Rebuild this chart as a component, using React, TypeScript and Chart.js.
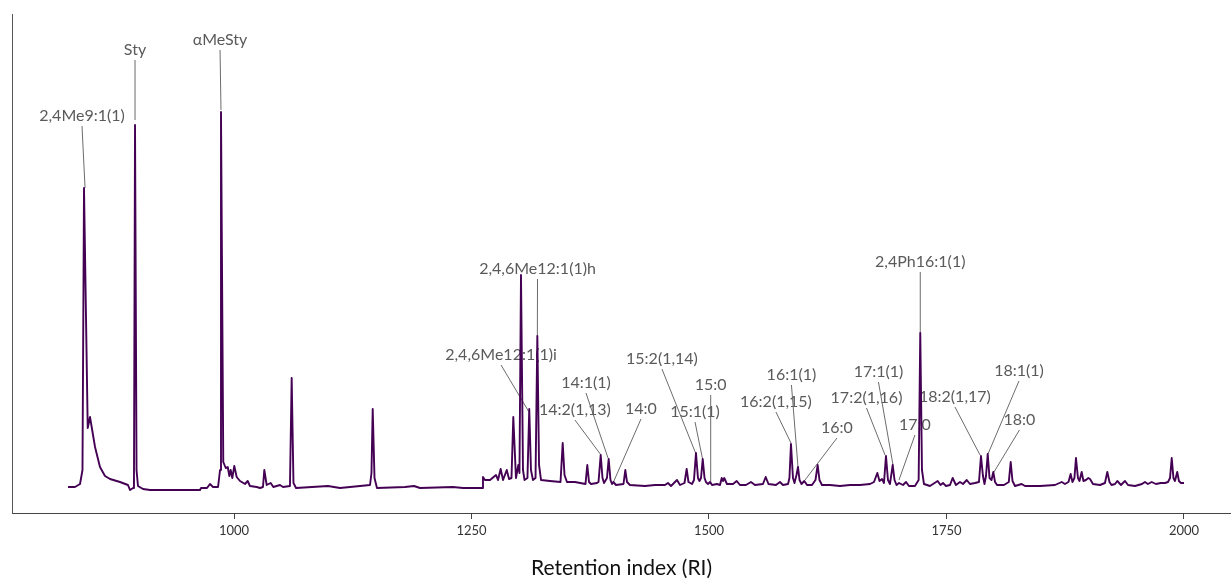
import React, { useEffect, useRef } from "react";
import { Chart, registerables } from "chart.js";

Chart.register(...registerables);

// Chromatogram trace (retention index, detector response in arbitrary units)
const retentionIndex = [
  825.3, 832.6, 837.9, 840.5, 842.1, 846.0, 848.4, 853.7, 858.9, 864.2, 869.5, 880.0, 888.4, 890.5,
  893.7, 894.7, 895.8, 897.4, 898.9, 904.2, 911.6, 932.6, 964.2, 965.3, 971.6, 974.7, 977.9, 983.2,
  985.3, 986.3, 988.7, 991.3, 993.4, 995.1, 996.5, 998.2, 1000.3, 1002.8, 1006.3, 1011.6, 1014.4,
  1016.8, 1023.9, 1027.4, 1030.5, 1031.9, 1034.4, 1038.6, 1041.4, 1048.4, 1051.6, 1058.9, 1060.7,
  1062.6, 1065.3, 1098.9, 1111.6, 1143.2, 1144.7, 1146.0, 1147.9, 1150.5, 1180.0, 1189.5, 1195.8,
  1230.5, 1241.1, 1261.1, 1262.1, 1264.2, 1269.5, 1275.8, 1277.9, 1280.7, 1283.2, 1287.1, 1289.5,
  1292.1, 1294.0, 1296.8, 1299.3, 1300.5, 1302.1, 1304.2, 1305.8, 1308.9, 1310.8, 1312.6, 1314.7,
  1317.4, 1319.3, 1321.1, 1323.2, 1332.6, 1343.7, 1346.0, 1347.9, 1350.5, 1358.9, 1370.0, 1371.9,
  1373.7, 1375.8, 1382.1, 1383.7, 1386.0, 1387.9, 1389.5, 1392.6, 1394.4, 1396.3, 1397.9, 1399.3,
  1402.1, 1410.0, 1411.9, 1413.7, 1416.8, 1432.6, 1443.2, 1453.7, 1456.8, 1460.0, 1466.3, 1469.5,
  1474.2, 1476.5, 1478.4, 1482.1, 1484.2, 1486.3, 1488.4, 1490.0, 1491.6, 1493.4, 1495.3, 1496.8,
  1498.9, 1501.1, 1503.2, 1508.4, 1511.6, 1513.4, 1514.7, 1516.1, 1518.9, 1525.3, 1529.2, 1532.6,
  1538.9, 1544.2, 1548.4, 1556.8, 1559.7, 1562.6, 1570.5, 1574.7, 1577.9, 1583.2, 1584.7, 1586.3,
  1588.4, 1590.0, 1592.1, 1593.7, 1595.3, 1597.4, 1600.3, 1603.2, 1608.4, 1612.1, 1614.4, 1616.3,
  1618.9, 1627.4, 1637.9, 1648.4, 1658.9, 1669.5, 1673.7, 1677.2, 1679.5, 1682.1, 1684.2, 1686.3,
  1688.4, 1690.5, 1693.4, 1695.3, 1697.4, 1700.0, 1704.2, 1707.4, 1710.5, 1716.8, 1720.7, 1722.4,
  1724.2, 1726.3, 1732.6, 1740.7, 1743.7, 1746.3, 1749.5, 1753.7, 1756.5, 1760.0, 1764.2, 1767.4,
  1771.3, 1774.7, 1780.0, 1784.2, 1786.3, 1788.4, 1790.0, 1791.6, 1793.4, 1795.3, 1797.4, 1799.3,
  1801.1, 1803.2, 1810.5, 1815.6, 1817.6, 1819.5, 1822.1, 1829.2, 1832.6, 1848.4, 1864.2, 1871.3,
  1874.7, 1878.4, 1880.7, 1882.6, 1884.7, 1886.3, 1888.4, 1890.0, 1892.3, 1894.2, 1896.8, 1899.3,
  1901.1, 1904.2, 1911.6, 1916.8, 1919.3, 1921.6, 1923.7, 1927.4, 1929.8, 1933.7, 1937.9, 1941.1,
  1948.4, 1955.8, 1958.9, 1962.1, 1966.0, 1970.5, 1975.5, 1980.0, 1983.2, 1985.3, 1987.1, 1988.9,
  1990.5, 1992.9, 1994.7, 1996.8, 2000.0,
];

const intensity = [
  26, 26, 29, 43, 325, 85, 96, 66, 46, 37, 34, 31, 28, 23,
  25, 33, 388, 43, 27, 24, 23, 23, 23, 25, 25, 29, 26, 26,
  43, 401, 51, 45, 46, 37, 43, 35, 47, 36, 32, 29, 32,
  27, 26, 25, 26, 43, 28, 30, 26, 28, 26, 27, 135,
  30, 25, 27, 25, 28, 40, 104, 35, 25, 26, 27, 25,
  26, 25, 25, 36, 33, 33, 38, 33, 44, 33, 43, 34,
  35, 96, 35, 48, 40, 238, 43, 33, 35, 104, 43, 33,
  35, 177, 48, 33, 32, 31, 70, 38, 31, 31, 29, 48,
  31, 29, 30, 31, 58, 35, 30, 35, 54, 33, 29, 31,
  28, 29, 43, 31, 28, 27, 28, 28, 30, 27, 33, 28,
  30, 44, 31, 29, 33, 60, 35, 32, 35, 54, 35, 31,
  29, 31, 28, 29, 28, 35, 32, 35, 29, 29, 32, 28,
  28, 31, 28, 29, 36, 29, 28, 31, 28, 29, 35, 69,
  35, 30, 38, 46, 33, 29, 32, 28, 28, 33, 48, 33,
  28, 28, 27, 28, 28, 29, 31, 40, 32, 34, 30, 57,
  33, 29, 48, 33, 28, 30, 28, 31, 27, 27, 33, 180,
  43, 29, 27, 32, 28, 30, 27, 28, 35, 28, 31, 29,
  33, 29, 30, 31, 57, 37, 29, 37, 59, 35, 33, 41,
  31, 28, 28, 31, 51, 32, 27, 29, 27, 27, 28, 31,
  29, 31, 39, 31, 35, 55, 35, 32, 41, 32, 33, 35,
  34, 29, 28, 30, 41, 31, 28, 29, 32, 28, 32, 28,
  27, 29, 31, 29, 31, 29, 30, 30, 31, 35, 55, 35,
  32, 41, 32, 30, 30,
];

// Peak annotations: label text, label position, and the point its leader line reaches
const peakLabels = [
  "2,4Me9:1(1)", "Sty", "αMeSty", "2,4,6Me12:1(1)h", "2,4,6Me12:1(1)i", "14:1(1)", "14:2(1,13)",
  "14:0", "15:2(1,14)", "15:1(1)", "15:0", "16:2(1,15)", "16:1(1)", "16:0", "17:2(1,16)",
  "17:1(1)", "17:0", "2,4Ph16:1(1)", "18:2(1,17)", "18:1(1)", "18:0",
];
const labelRI = [
  840.0, 895.8, 985.3, 1319.5, 1281.1, 1370.5, 1358.9, 1428.4, 1450.5, 1485.3, 1501.8, 1570.5,
  1586.8, 1634.7, 1665.8, 1678.4, 1716.8, 1722.4, 1758.9, 1826.3, 1826.8,
];
const labelIntensity = [
  397, 463, 473, 244, 158, 130, 103, 104, 154, 101, 128, 111, 138, 85, 115, 141, 88, 251, 116,
  142, 93,
];
const targetRI = [
  843.2, 895.8, 986.3, 1319.3, 1310.5, 1393.7, 1386.3, 1399.0, 1486.3, 1493.2, 1501.8, 1586.3,
  1593.7, 1601.1, 1685.3, 1693.7, 1700.0, 1722.4, 1785.3, 1793.7, 1800.0,
];
const targetIntensity = [
  325, 393, 403, 177, 101, 55, 58, 30, 59, 54, 30, 70, 46, 33, 58, 48, 33, 180, 58, 59, 41,
];

const xTicks = [1000, 1250, 1500, 1750, 2000];
const xMin = 766.3;
const xMax = 2049.5;
const yMax = 499;

const labelPlugin = {
  id: "peakLabels",
  beforeDatasetsDraw(chart: any) {
    const { ctx, scales } = chart;
    const xs = scales.x;
    const ys = scales.y;
    ctx.save();
    ctx.font = "16px Lato";
    ctx.textAlign = "center";
    ctx.textBaseline = "middle";
    for (let i = 0; i < peakLabels.length; i++) {
      const lx = xs.getPixelForValue(labelRI[i]);
      const ly = ys.getPixelForValue(labelIntensity[i]);
      const tx = xs.getPixelForValue(targetRI[i]);
      const ty = ys.getPixelForValue(targetIntensity[i]);
      ctx.strokeStyle = "#6b6b6b";
      ctx.lineWidth = 1;
      ctx.beginPath();
      ctx.moveTo(lx, ly + 10);
      ctx.lineTo(tx, ty);
      ctx.stroke();
      ctx.fillStyle = "#5a5a5a";
      ctx.fillText(peakLabels[i], lx, ly);
    }
    ctx.restore();
  },
};

export default function App() {
  const canvasRef = useRef<HTMLCanvasElement | null>(null);

  useEffect(() => {
    document.body.style.margin = "0";
    const canvas = canvasRef.current;
    if (!canvas) return;
    const chart = new Chart(canvas, {
      type: "line",
      data: {
        datasets: [
          {
            data: retentionIndex.map((x, i) => ({ x, y: intensity[i] })),
            borderColor: "#440154",
            borderWidth: 1.9,
            pointRadius: 0,
            tension: 0,
            fill: false,
            borderJoinStyle: "round",
          },
        ],
      },
      options: {
        animation: false,
        responsive: false,
        parsing: false,
        normalized: true,
        layout: { padding: { left: 12, top: 14, right: 0, bottom: 0 } },
        plugins: {
          legend: { display: false },
          tooltip: { enabled: false },
        },
        scales: {
          x: {
            type: "linear",
            position: "bottom",
            min: xMin,
            max: xMax,
            afterBuildTicks: (scale: any) => {
              scale.ticks = xTicks.map((v) => ({ value: v }));
            },
            afterFit: (scale: any) => {
              scale.height = 68;
            },
            grid: {
              drawOnChartArea: false,
              drawTicks: true,
              tickLength: 6,
              color: "#444444",
            },
            border: { display: true, color: "#444444", width: 1 },
            ticks: {
              font: { family: "Lato", size: 13 },
              color: "#333333",
              padding: 4,
              maxRotation: 0,
              autoSkip: false,
              callback: (v: any) => String(v),
            },
            title: {
              display: true,
              text: "Retention index (RI)",
              font: { family: "Lato", size: 21 },
              color: "#111111",
              padding: { top: 0, bottom: 0 },
            },
          },
          y: {
            type: "linear",
            min: 0,
            max: yMax,
            afterFit: (scale: any) => {
              scale.width = 0;
            },
            ticks: { display: false },
            grid: { drawOnChartArea: false, drawTicks: false },
            border: { display: true, color: "#555555", width: 1 },
          },
        },
      },
      plugins: [labelPlugin],
    } as any);
    return () => chart.destroy();
  }, []);

  return (
    <div style={{ position: "absolute", left: 0, top: 0, width: 1231, height: 581, background: "#ffffff" }}>
      <canvas ref={canvasRef} width={1231} height={581} style={{ width: 1231, height: 581, display: "block" }} />
    </div>
  );
}
